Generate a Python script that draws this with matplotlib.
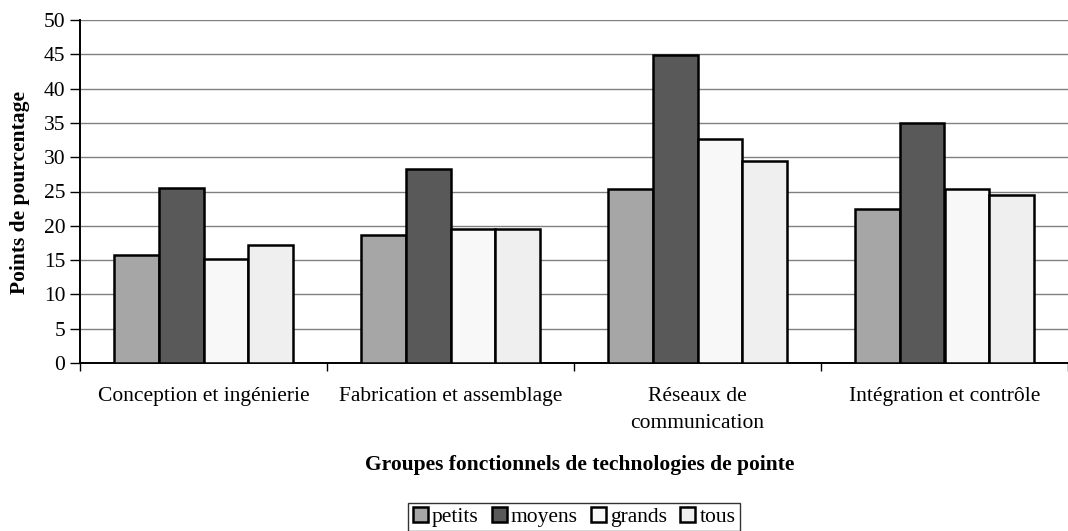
import numpy as np
import matplotlib.pyplot as plt

plt.rcParams['font.family'] = ['Liberation Serif', 'DejaVu Serif']

# Données
categories = ['Conception et ingénierie', 'Fabrication et assemblage',
              'Réseaux de\ncommunication', 'Intégration et contrôle']
series = ['petits', 'moyens', 'grands', 'tous']
petits = [15.7, 18.7, 25.4, 22.4]
moyens = [25.5, 28.3, 44.9, 35.0]
grands = [15.2, 19.5, 32.6, 25.4]
tous = [17.2, 19.6, 29.4, 24.5]
yticks = list(range(0, 51, 5))

valeurs = [petits, moyens, grands, tous]
couleurs = ['#a6a6a6', '#595959', '#f8f8f8', '#efefef']
fs = 15.5

fig = plt.figure(figsize=(10.68, 5.31), dpi=100)
ax = fig.add_axes([80 / 1068, 1 - 363 / 531, 988 / 1068, (363 - 20) / 531])

x = np.arange(len(categories))
w = 0.182
for k in range(len(series)):
    ax.bar(x + (k - 1.5) * w, valeurs[k], w, color=couleurs[k],
           edgecolor='black', linewidth=1.8, label=series[k], zorder=3)

ax.set_ylim(0, 50)
ax.set_xlim(-0.5, -0.5 + 988 / 250)
ax.set_yticks(yticks)
ax.yaxis.grid(True, color='#808080', linewidth=1.0, zorder=0)

# ticks x entre les catégories
ax.set_xticks(np.arange(len(categories) + 1) - 0.5)
ax.set_xticklabels([])
ax.set_xticks(x, minor=True)
ax.set_xticklabels(categories, minor=True, fontsize=fs, linespacing=1.6)
ax.tick_params(axis='x', which='minor', length=0, pad=17)
ax.tick_params(axis='x', which='major', length=6, width=1, direction='out')
ax.tick_params(axis='y', length=7, width=1, direction='out', labelsize=fs, pad=3.5)

for s in ['top', 'right']:
    ax.spines[s].set_visible(False)
ax.spines['left'].set_linewidth(1.4)
ax.spines['bottom'].set_linewidth(1.4)

fig.text(20 / 1068, 1 - 192 / 531, 'Points de pourcentage', rotation=90,
         ha='center', va='center', fontsize=fs, fontweight='bold')
fig.text(580 / 1068, 1 - 465 / 531, 'Groupes fonctionnels de technologies de pointe',
         ha='center', va='center', fontsize=fs, fontweight='bold')

leg = fig.legend(loc='center', bbox_to_anchor=(574 / 1068, 1 - 517 / 531), ncol=4,
                 fontsize=fs, frameon=True, fancybox=False, edgecolor='black',
                 handlelength=0.7, handleheight=0.7, handletextpad=0.2,
                 columnspacing=0.6, borderpad=0.2, borderaxespad=0)
leg.get_frame().set_linewidth(1.0)

fig.savefig('out.png', dpi=100)
